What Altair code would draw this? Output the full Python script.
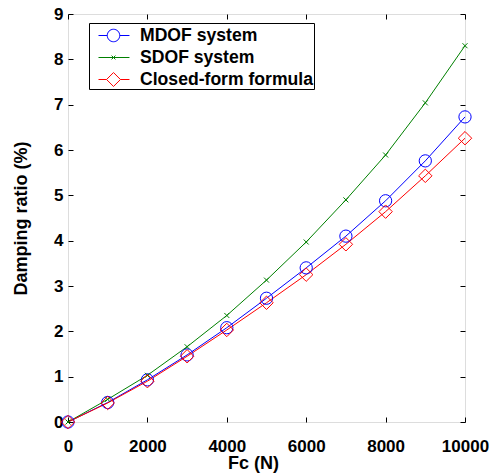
import altair as alt
import pandas as pd

# ---- data ----
fc = [0, 1000, 2000, 3000, 4000, 5000, 6000, 7000, 8000, 9000, 10000]
mdof = [0, 0.43, 0.93, 1.48, 2.08, 2.73, 3.40, 4.10, 4.88, 5.76, 6.73]
sdof = [0, 0.50, 1.03, 1.66, 2.35, 3.13, 3.97, 4.90, 5.89, 7.04, 8.30]
closed = [0, 0.42, 0.90, 1.45, 2.03, 2.63, 3.25, 3.92, 4.64, 5.43, 6.26]
series = ["MDOF system", "SDOF system", "Closed-form formula"]
colors = ["#0000ff", "#008000", "#ff0000"]
x_ticks = [0, 2000, 4000, 6000, 8000, 10000]
y_ticks = [0, 1, 2, 3, 4, 5, 6, 7, 8, 9]

rows = []
for name, vals in zip(series, [mdof, sdof, closed]):
    for f, v in zip(fc, vals):
        rows.append({"Fc": f, "ratio": v, "series": name})
df = pd.DataFrame(rows)

W, H = 397, 408
FONT = "Liberation Sans"

xs = alt.Scale(domain=[0, 10000], nice=False)
ys = alt.Scale(domain=[0, 9], nice=False)
cs = alt.Scale(domain=series, range=colors)

# legend symbols: line + marker (marker centred at x=1 unit, line from -0.25 to 2.33)
legend_paths = [
    "M-0.25,0L0.48,0M1.52,0A0.52,0.52 0 1,1 0.48,0A0.52,0.52 0 1,1 1.52,0M1.52,0L2.33,0",
    "M-0.25,0L2.33,0M0.84,-0.16L1.16,0.16M0.84,0.16L1.16,-0.16",
    "M-0.25,0L0.42,0L1,-0.58L1.58,0L1,0.58L0.42,0M1.58,0L2.33,0",
]
x_path = "M-1,-1L1,1M-1,1L1,-1"

# ticks drawn inward: axis shifted 5px inside the frame, ticks pointing out to the frame
common_axis = dict(grid=False, labelFontSize=17, labelFontWeight="bold", labelFont=FONT,
                   labelColor="black", titleFontSize=18, titleFontWeight="bold",
                   titleFont=FONT, titleColor="black", domain=False,
                   tickColor="black", tickSize=5, tickWidth=1, offset=-5, format="d")

x_main = alt.X("Fc:Q", scale=xs,
               axis=alt.Axis(values=x_ticks, title="Fc (N)", labelPadding=16,
                             titlePadding=0, titleX=185, labelFlush=False, **common_axis))
y_main = alt.Y("ratio:Q", scale=ys,
               axis=alt.Axis(values=y_ticks, title="Damping ratio (%)", labelPadding=5,
                             titlePadding=23, **common_axis))
x_top = alt.X("Fc:Q", scale=xs,
              axis=alt.Axis(values=x_ticks, orient="top", title=None, labels=False,
                            **common_axis))
y_right = alt.Y("ratio:Q", scale=ys,
                axis=alt.Axis(values=y_ticks, orient="right", title=None, labels=False,
                              **common_axis))

base = alt.Chart(df)

lines = base.mark_line(strokeWidth=1).encode(
    x=x_main, y=y_main,
    color=alt.Color("series:N", scale=cs, legend=None),
    detail="series:N",
)

def pts(name, shape, size, x, y):
    return base.transform_filter(alt.datum.series == name).mark_point(
        filled=False, strokeWidth=1, shape=shape, size=size, opacity=1
    ).encode(x=x, y=y,
             color=alt.Color("series:N", scale=cs, legend=None))

p1 = pts(series[0], "circle", 150, x_top, y_right)
p2 = pts(series[1], x_path, 25,
         alt.X("Fc:Q", scale=xs, axis=None), alt.Y("ratio:Q", scale=ys, axis=None))
p3 = pts(series[2], "diamond", 180,
         alt.X("Fc:Q", scale=xs, axis=None), alt.Y("ratio:Q", scale=ys, axis=None))

leg = base.transform_filter(alt.datum.Fc < 0).mark_point(
    filled=False, size=576, opacity=1
).encode(
    x=alt.X("Fc:Q", scale=xs, axis=None),
    y=alt.Y("ratio:Q", scale=ys, axis=None),
    color=alt.Color("series:N", scale=cs,
                    legend=alt.Legend(title=None, orient="none", legendX=21, legendY=9,
                                      symbolSize=576, symbolStrokeWidth=1,
                                      symbolOpacity=1,
                                      symbolFillColor="transparent",
                                      labelFontSize=17.6, labelFontWeight="bold",
                                      labelFont=FONT, labelColor="black",
                                      labelOffset=26, padding=0, rowPadding=-2,
                                      strokeColor="black", fillColor="white",
                                      cornerRadius=0, labelLimit=400)),
    shape=alt.Shape("series:N", scale=alt.Scale(domain=series, range=legend_paths)),
)

chart = alt.layer(
    lines, p1, p2, p3, leg
).resolve_axis(x="independent", y="independent").resolve_legend(
    color="independent", shape="independent"
).properties(
    width=W, height=H,
    autosize=alt.AutoSizeParams(type="none"),
    padding={"left": 60, "top": 6, "right": 25, "bottom": 53},
).configure_view(stroke="black", strokeWidth=1).configure(background="white")

chart.save("out.html", embed_options={"renderer": "svg", "actions": False})
